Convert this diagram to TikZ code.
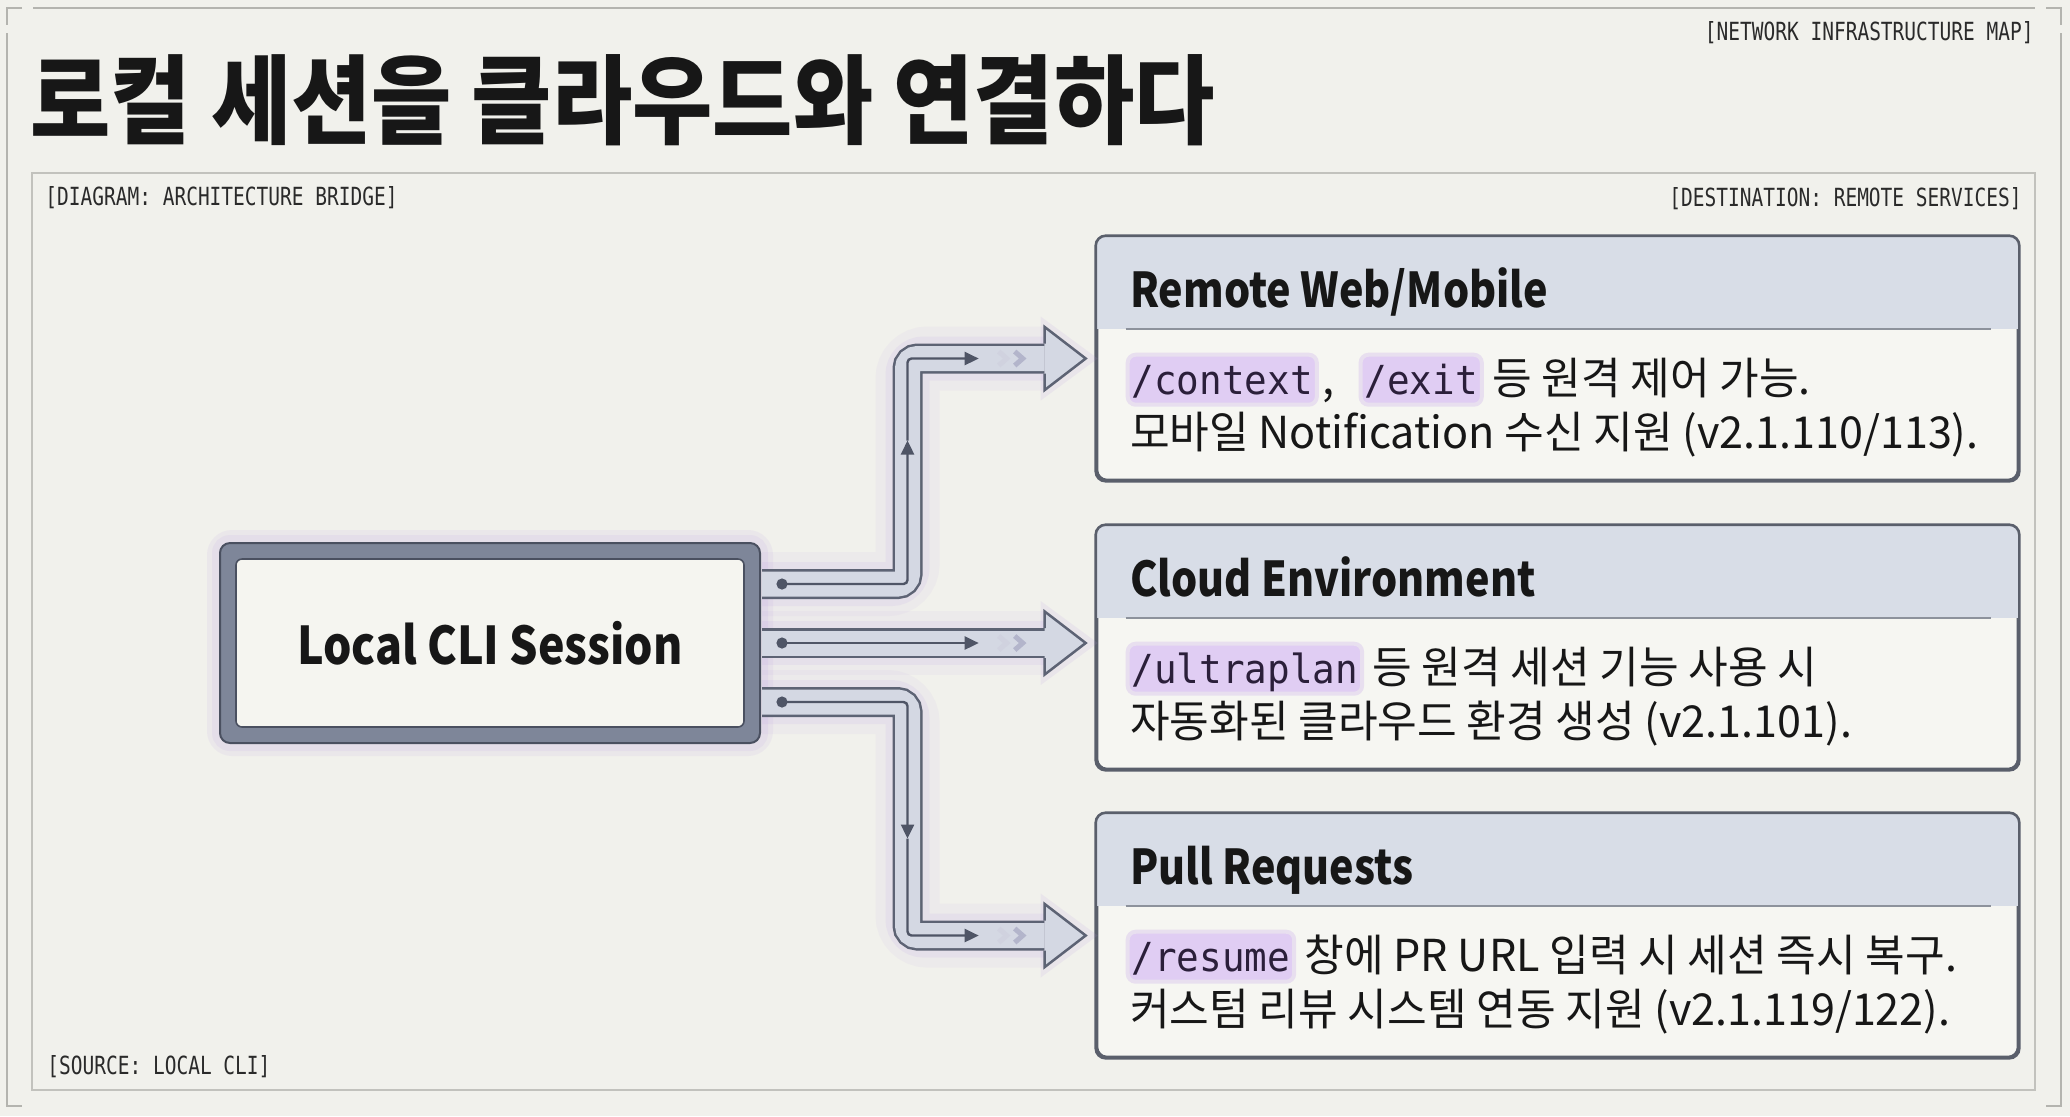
\documentclass[tikz,border=0pt]{standalone}
\usepackage{fontspec}
\usetikzlibrary{arrows.meta,calc}
\setmainfont{Noto Sans CJK KR}
\newfontfamily\kr[FakeStretch=0.98]{Noto Sans CJK KR}
\newfontfamily\krn[FakeStretch=0.9]{Noto Sans CJK KR}
\newfontfamily\krh[FakeStretch=0.86]{Noto Sans CJK KR}
\newfontfamily\labmono[FakeStretch=0.78]{DejaVu Sans Mono}
\newfontfamily\codemono[FakeStretch=0.94]{DejaVu Sans Mono}

\definecolor{bgc}{HTML}{F1F1EC}
\definecolor{framec}{HTML}{B4B4AF}
\definecolor{panelc}{HTML}{C2C2BD}
\definecolor{ink}{HTML}{171717}
\definecolor{labc}{HTML}{2A2A2A}
\definecolor{boxc}{HTML}{5A5F6B}
\definecolor{hdrc}{HTML}{D8DDE7}
\definecolor{bodyc}{HTML}{F6F6F2}
\definecolor{sepc}{HTML}{8D929C}
\definecolor{codebg}{HTML}{E0CDF3}
\definecolor{codeink}{HTML}{2B1F3A}
\definecolor{glowc}{HTML}{B596E2}
\definecolor{pipeedgec}{HTML}{5D6374}
\definecolor{pipefillc}{HTML}{D4D8E3}
\definecolor{flowc}{HTML}{4F5566}
\definecolor{chevA}{HTML}{D0D2DF}
\definecolor{chevB}{HTML}{B3B5CB}
\definecolor{clio}{HTML}{7E8699}
\definecolor{clibd}{HTML}{4A5060}
\definecolor{clii}{HTML}{F5F5F0}

\tikzset{
  lab/.style={font=\labmono\fontsize{12.5}{14}\selectfont, text=labc, inner sep=0pt},
  framel/.style={draw=framec, line width=1pt},
  hdr/.style={font=\krh\bfseries\fontsize{24}{28}\selectfont, text=ink, inner sep=0pt, anchor=base west},
  body/.style={font=\kr\fontsize{22}{26}\selectfont, text=ink, inner sep=0pt, anchor=base west},
  code/.style={font=\codemono\fontsize{20}{24}\selectfont, text=codeink, fill=codebg,
    draw=codebg!50!bgc, line width=2pt, rounded corners=4pt, inner xsep=2pt, inner ysep=0pt,
    text height=20pt, text depth=5pt, anchor=base west},
  rbox/.style={draw=boxc, line width=1.3pt, fill=bodyc, rounded corners=5pt,
    minimum width=460.5pt, minimum height=121.5pt, inner sep=0pt},
  pipeedge/.style={draw=pipeedgec, line width=15pt, rounded corners=5pt},
  pipefill/.style={draw=pipefillc, line width=12.5pt, rounded corners=5pt},
  glowA/.style={draw=glowc, opacity=0.07, line width=32pt, rounded corners=10pt},
  glowB/.style={draw=glowc, opacity=0.11, line width=22pt, rounded corners=8pt},
  flow/.style={draw=flowc, line width=1.2pt, rounded corners=2pt},
  tip/.style={-{Triangle[length=7pt,width=6.5pt]}},
  chevlA/.style={draw=chevA, line width=2.5pt},
  chevlB/.style={draw=chevB, line width=2.5pt},
}

\newcommand\serviceBox[4]{%
  \node[rbox] (#1) at (1557.5,#2) {};
  \begin{scope}
    \clip[rounded corners=5pt] (#1.north west) rectangle (#1.south east);
    \fill[hdrc] (#1.north west) rectangle ($(#1.north east)+(0,93)$);
  \end{scope}
  \draw[boxc, line width=1.3pt, rounded corners=5pt] (#1.north west) rectangle (#1.south east);
  \draw[sepc, line width=1pt] ($(#1.north west)+(30,93)$) -- ($(#1.north east)+(-28,93)$);
  \node[hdr] (#1h) at ($(#1.north west)+(34,72)$) {#3};
  \node[body] (#1l2) at ($(#1.north west)+(34,213)$) {#4};
}

\newcommand\arrowHead[2]{% #1 base coordinate, #2 tip coordinate
  \fill[pipefillc] ($(#1)+(0,-31.5)$) -- (#2) -- ($(#1)+(0,31.5)$) -- cycle;
  \draw[pipeedgec, line width=1.25pt] ($(#1)+(0,-15)$) -- ($(#1)+(0,-31.5)$) -- (#2) -- ($(#1)+(0,31.5)$) -- ($(#1)+(0,15)$);
}
\newcommand\headGlow[2]{%
  \fill[glowc, opacity=0.12] ($(#1)+(-4,-42)$) -- ($(#2)+(12,0)$) -- ($(#1)+(-4,42)$) -- cycle;
}
\newcommand\chevrons[1]{%
  \draw[chevlA] ($(#1)+(-87,-7)$) -- ($(#1)+(-79,0)$) -- ($(#1)+(-87,7)$);
  \draw[chevlB] ($(#1)+(-71,-7)$) -- ($(#1)+(-63,0)$) -- ($(#1)+(-71,7)$);
}

\begin{document}
\begin{tikzpicture}[x=0.5pt,y=-0.5pt]
\useasboundingbox (0,0) rectangle (2070,1116);
\fill[bgc] (0,0) rectangle (2070,1116);

% outer frame
\draw[framel] (22,8) -- (7,8) -- (7,25);
\draw[framel] (7,33) -- (7,1106) -- (22,1106);
\draw[framel] (33,8) -- (2035,8);
\draw[framel] (2046,8) -- (2061,8) -- (2061,25);
\draw[framel] (2061,33) -- (2061,1106) -- (2046,1106);
% inner panel
\draw[draw=panelc, line width=1pt] (32,173) rectangle (2035,1090);

% labels
\node[lab, anchor=east] (lnet) at (2034,33) {[NETWORK INFRASTRUCTURE MAP]};
\node[lab, anchor=east] (ldest) at (2022,199) {[DESTINATION: REMOTE SERVICES]};
\node[lab, anchor=west] (ldiag) at (45,198) {[DIAGRAM: ARCHITECTURE BRIDGE]};
\node[lab, anchor=west] (lsrc) at (47,1067) {[SOURCE: LOCAL CLI]};

% title
\node[anchor=base west, inner sep=0pt, font=\krn\bfseries\fontsize{48.5}{54}\selectfont, text=ink] (title) at (30,136) {로컬 세션을 클라우드와 연결하다};

% service boxes
\serviceBox{r1}{358.5}{Remote Web/Mobile}{모바일 Notification 수신 지원 (v2.1.110/113).}
\serviceBox{r2}{647.5}{Cloud Environment}{자동화된 클라우드 환경 생성 (v2.1.101).}
\serviceBox{r3}{935.5}{Pull Requests}{커스텀 리뷰 시스템 연동 지원 (v2.1.119/122).}

% first body lines
\node[code] (c1a) at ($(r1.north west)+(30,159)$) {/context};
\node[body] (t1a) at ($(c1a.base east)+(3,0)$) {,};
\node[code] (c1b) at ($(t1a.base east)+(24,0)$) {/exit};
\node[body] (t1b) at ($(c1b.base east)+(8,0)$) {등 원격 제어 가능.};

\node[code] (c2a) at ($(r2.north west)+(30,159)$) {/ultraplan};
\node[body] (t2a) at ($(c2a.base east)+(8,0)$) {등 원격 세션 기능 사용 시};

\node[code] (c3a) at ($(r3.north west)+(30,159)$) {/resume};
\node[body] (t3a) at ($(c3a.base east)+(8,0)$) {창에 PR URL 입력 시 세션 즉시 복구.};

% CLI glow and box
\draw[glowc, opacity=0.10, line width=9pt, rounded corners=8pt] (216,539) rectangle (764,747);
\draw[glowc, opacity=0.10, line width=4pt, rounded corners=7pt] (216,539) rectangle (764,747);
\node[draw=clibd, fill=clio, line width=1pt, rounded corners=5pt, minimum width=270pt, minimum height=100pt, inner sep=0pt] (cli) at (490,643) {};
\node[draw=clibd, fill=clii, line width=0.8pt, rounded corners=3pt, minimum width=254pt, minimum height=84pt, inner sep=0pt,
  font=\krh\bfseries\fontsize{26}{30}\selectfont, text=ink] (clitext) at (cli.center) {Local CLI Session};

% pipe coordinates
\coordinate (bx) at (907.5,0);
\coordinate (p1s) at ($(cli.east)+(1,-59)$);
\coordinate (p2s) at ($(cli.east)+(1,0)$);
\coordinate (p3s) at ($(cli.east)+(1,59)$);
\coordinate (p1e) at ($(r1.west)+(-10,0)$);
\coordinate (p2e) at ($(p2s -| r2.west)+(-10,0)$);
\coordinate (p3e) at ($(r3.west)+(-10,0)$);
\coordinate (p1b) at ($(p1e)+(-41,0)$);
\coordinate (p2b) at ($(p2e)+(-41,0)$);
\coordinate (p3b) at ($(p3e)+(-41,0)$);

% glows
\draw[glowA] (p1s) -- (p1s -| bx) -- (bx |- p1e) -- (p1b);
\draw[glowB] (p1s) -- (p1s -| bx) -- (bx |- p1e) -- (p1b);
\draw[glowA] (p2s) -- (p2b);
\draw[glowB] (p2s) -- (p2b);
\draw[glowA] (p3s) -- (p3s -| bx) -- (bx |- p3e) -- (p3b);
\draw[glowB] (p3s) -- (p3s -| bx) -- (bx |- p3e) -- (p3b);
\headGlow{p1b}{p1e}
\headGlow{p2b}{p2e}
\headGlow{p3b}{p3e}

% pipes
\draw[pipeedge] (p1s) -- (p1s -| bx) -- (bx |- p1e) -- (p1b);
\draw[pipefill] (p1s) -- (p1s -| bx) -- (bx |- p1e) -- (p1b);
\arrowHead{p1b}{p1e}
\draw[pipeedge] (p2s) -- (p2b);
\draw[pipefill] (p2s) -- (p2b);
\arrowHead{p2b}{p2e}
\draw[pipeedge] (p3s) -- (p3s -| bx) -- (bx |- p3e) -- (p3b);
\draw[pipefill] (p3s) -- (p3s -| bx) -- (bx |- p3e) -- (p3b);
\arrowHead{p3b}{p3e}

% flow lines
\coordinate (d1) at ($(p1s)+(20,0)$);
\coordinate (d2) at ($(p2s)+(20,0)$);
\coordinate (d3) at ($(p3s)+(20,0)$);
\coordinate (m1) at ($(bx |- p1e)+(0,82)$);
\coordinate (m3) at ($(bx |- p3e)+(0,-97)$);
\draw[flow, tip] (d1) -- (p1s -| bx) -- (m1);
\draw[flow, tip] (m1) -- (bx |- p1e) -- ($(p1e)+(-107,0)$);
\draw[flow, tip] (d2) -- ($(p2e)+(-107,0)$);
\draw[flow, tip] (d3) -- (p3s -| bx) -- (m3);
\draw[flow, tip] (m3) -- (bx |- p3e) -- ($(p3e)+(-107,0)$);
\fill[flowc] (d1) circle (2.8pt);
\fill[flowc] (d2) circle (2.8pt);
\fill[flowc] (d3) circle (2.8pt);
\chevrons{p1e}
\chevrons{p2e}
\chevrons{p3e}
\end{tikzpicture}
\end{document}
